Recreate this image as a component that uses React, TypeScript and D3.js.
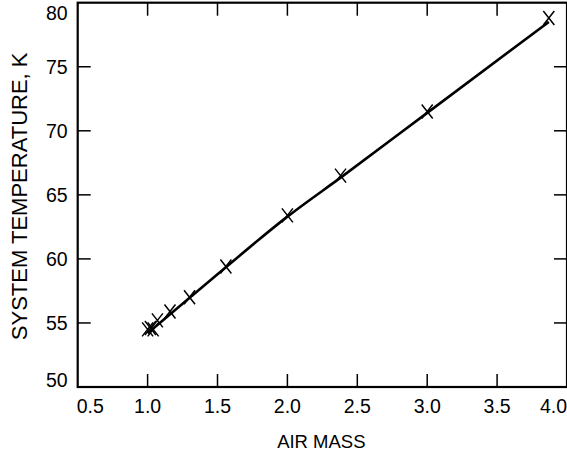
import React, { useRef, useEffect } from 'react';
import * as d3 from 'd3';

// measured points (air mass, system temperature K)
const airMass = [1.0, 1.02, 1.04, 1.07, 1.16, 1.3, 1.56, 2.0, 2.38, 3.0, 3.87];
const sysTemp = [54.5, 54.6, 54.5, 55.2, 55.9, 57.0, 59.4, 63.4, 66.5, 71.5, 78.8];

// fitted curve
const fitMass = [1.0, 1.5, 2.0, 2.4, 3.0, 3.87];
const fitTemp = [54.2, 58.8, 63.3, 66.5, 71.4, 78.5];

const xTicks = [0.5, 1.0, 1.5, 2.0, 2.5, 3.0, 3.5, 4.0];
const yTicks = [50, 55, 60, 65, 70, 75, 80];

const App = () => {
  const svgRef = useRef<SVGSVGElement>(null);

  useEffect(() => {
    const svg = d3.select(svgRef.current);
    svg.selectAll('*').remove();

    const width = 567;
    const height = 453;
    const margin = { top: 2.7, right: 0, bottom: 66, left: 77.7 };
    const font = 'Liberation Sans, Arial, sans-serif';
    const tickFont = 19.5;

    const x = d3.scaleLinear().domain([0.5, 4.0]).range([margin.left, width - margin.right]);
    const y = d3.scaleLinear().domain([50, 80]).range([height - margin.bottom, margin.top]);

    const x0 = x(0.5), x1 = x(4.0), y0 = y(50), y1 = y(80);

    // inner tick marks on all four sides
    const innerX = xTicks.slice(1, -1);
    const innerY = yTicks.slice(1, -1);
    const tickLen = 13;

    const ticks = svg.append('g').attr('stroke', '#000').attr('stroke-width', 1.5);
    innerX.forEach(v => {
      ticks.append('line').attr('x1', x(v)).attr('x2', x(v)).attr('y1', y0).attr('y2', y0 - tickLen);
      ticks.append('line').attr('x1', x(v)).attr('x2', x(v)).attr('y1', y1).attr('y2', y1 + tickLen);
    });
    innerY.forEach(v => {
      ticks.append('line').attr('x1', x0).attr('x2', x0 + tickLen).attr('y1', y(v)).attr('y2', y(v));
      ticks.append('line').attr('x1', x1).attr('x2', x1 - tickLen).attr('y1', y(v)).attr('y2', y(v));
    });

    // frame
    svg.append('rect')
      .attr('x', x0).attr('y', y1)
      .attr('width', x1 - x0).attr('height', y0 - y1)
      .attr('fill', 'none').attr('stroke', '#000').attr('stroke-width', 2.2);

    // tick labels
    svg.append('g').selectAll('text')
      .data(xTicks)
      .join('text')
      .attr('x', (d, i) => (i === 0 ? x(d) - 1 : x(d)))
      .attr('y', y0 + 26)
      .attr('text-anchor', (d, i) => (i === 0 ? 'start' : i === xTicks.length - 1 ? 'end' : 'middle'))
      .attr('font-family', font)
      .attr('font-size', tickFont)
      .attr('fill', '#000')
      .text(d => d.toFixed(1));

    svg.append('g').selectAll('text')
      .data(yTicks)
      .join('text')
      .attr('x', x0 - 10)
      .attr('y', (d, i) => (i === 0 ? y(d) - 7 : i === yTicks.length - 1 ? y(d) + 10 : y(d)))
      .attr('dy', '0.35em')
      .attr('text-anchor', 'end')
      .attr('font-family', font)
      .attr('font-size', tickFont)
      .attr('fill', '#000')
      .text(d => d);

    // axis titles
    svg.append('text')
      .attr('x', (x0 + x1) / 2 - 1)
      .attr('y', y0 + 61)
      .attr('text-anchor', 'middle')
      .attr('font-family', font)
      .attr('font-size', 18.5)
      .text('AIR MASS');

    svg.append('text')
      .attr('transform', `translate(27,${(y0 + y1) / 2 + 1.5}) rotate(-90)`)
      .attr('text-anchor', 'middle')
      .attr('font-family', font)
      .attr('font-size', 22)
      .text('SYSTEM TEMPERATURE, K');

    // fitted line
    const line = d3.line<number>()
      .x((d, i) => x(fitMass[i]))
      .y(d => y(d))
      .curve(d3.curveMonotoneX);
    svg.append('path')
      .datum(fitTemp)
      .attr('d', line)
      .attr('fill', 'none')
      .attr('stroke', '#000')
      .attr('stroke-width', 2.6);

    // X markers
    const hw = 5.5, hh = 7;
    svg.append('g').selectAll('path')
      .data(airMass)
      .join('path')
      .attr('d', (d, i) => {
        const cx = x(d), cy = y(sysTemp[i]);
        return `M${cx - hw},${cy - hh}L${cx + hw},${cy + hh}M${cx + hw},${cy - hh}L${cx - hw},${cy + hh}`;
      })
      .attr('fill', 'none')
      .attr('stroke', '#000')
      .attr('stroke-width', 1.5);
  }, []);

  return (
    <svg
      ref={svgRef}
      width="567"
      height="453"
      style={{ position: 'absolute', left: 0, top: 0, background: '#fff' }}
    ></svg>
  );
};

export default App;
